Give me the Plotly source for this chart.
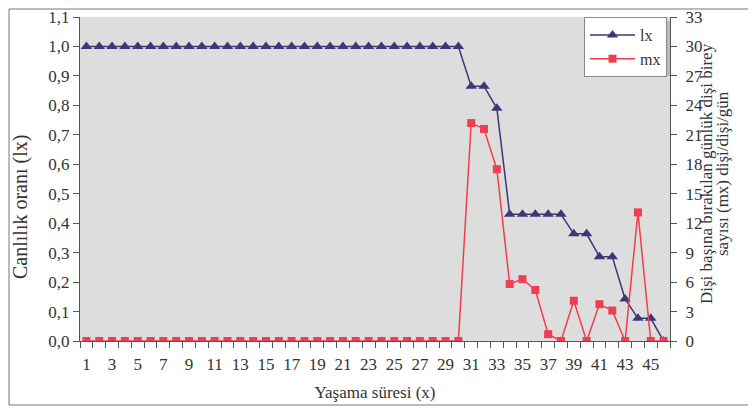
import plotly.graph_objects as go

x = list(range(1, 47))
lx = [1.0] * 30 + [0.865, 0.865, 0.79, 0.43, 0.43, 0.43, 0.43, 0.43, 0.364, 0.364,
                   0.286, 0.286, 0.143, 0.077, 0.077, 0.0]
mx = [0.0] * 30 + [22.2, 21.6, 17.5, 5.8, 6.3, 5.2, 0.7, 0.0, 4.1, 0.0,
                   3.75, 3.1, 0.0, 13.1, 0.0, 0.0]
x_labels = list(range(1, 47, 2))
left_ticks = [round(i * 0.1, 1) for i in range(12)]
right_ticks = list(range(0, 34, 3))

FONT = "Liberation Serif"
TXT = "#333333"
OFF = 8  # page body margin
W, H = 756 - OFF, 416 - OFF
L, T = 80 - OFF, 17 - OFF
R = W - (670 - OFF)
B = H - (341 - OFF)
pw, ph = W - L - R, H - T - B

fig = go.Figure()
fig.add_trace(go.Scatter(x=x, y=lx, name="lx", mode="lines+markers",
                         line=dict(color="#3b3878", width=1.5),
                         marker=dict(symbol="triangle-up", size=10, color="#3b3878")))
fig.add_trace(go.Scatter(x=x, y=mx, name="mx", mode="lines+markers", yaxis="y2",
                         line=dict(color="#ee3f52", width=1.5),
                         marker=dict(symbol="square", size=8, color="#ee3f52")))

def px_x(p):
    return (p - OFF - L) / pw

def px_y(p):
    return (H - B - (p - OFF)) / ph

fig.update_layout(
    width=W, height=H,
    margin=dict(l=L, r=R, t=T, b=B, autoexpand=False),
    paper_bgcolor="white",
    plot_bgcolor="#dddddd",
    separators=",.",
    font=dict(family=FONT, size=17, color=TXT),
    showlegend=True,
    legend=dict(x=px_x(584), y=px_y(17), xanchor="left", yanchor="top",
                bgcolor="white", bordercolor="#888888", borderwidth=1,
                font=dict(family=FONT, size=16, color=TXT),
                itemwidth=45, tracegroupgap=0),
    xaxis=dict(range=[0.5, 46.5], tickmode="array", tickvals=x_labels,
               ticktext=[str(v) for v in x_labels], ticks="", automargin=False,
               ticklabelstandoff=8, ticklabeloverflow="allow",
               showgrid=False, zeroline=False, showline=True, linecolor="#555555",
               minor=dict(tick0=0.5, dtick=1, ticks="outside", ticklen=6,
                          tickcolor="#555555", showgrid=False),
               title=dict(text="Yaşama süresi (x)", font=dict(family=FONT, size=17), standoff=12),
               tickfont=dict(family=FONT, size=17)),
    yaxis=dict(range=[0, 1.1], tickmode="array", tickvals=left_ticks, tickformat=".1f",
               ticks="outside", ticklen=6, tickcolor="#555555", automargin=False,
               ticklabeloverflow="allow",
               showgrid=False, zeroline=False, showline=True, linecolor="#555555",
               tickfont=dict(family=FONT, size=17)),
    yaxis2=dict(range=[0, 33], overlaying="y", side="right", tickmode="array", automargin=False,
                tickvals=right_ticks, ticks="outside", ticklen=6, tickcolor="#555555",
                ticklabelstandoff=5, ticklabeloverflow="allow",
                showgrid=False, zeroline=False, showline=True, linecolor="#555555",
                tickfont=dict(family=FONT, size=17)),
    annotations=[
        dict(text="Canlılık oranı (lx)", xref="paper", yref="paper",
             x=px_x(21), y=px_y(207), textangle=-90, showarrow=False,
             xanchor="center", yanchor="middle", font=dict(family=FONT, size=20, color=TXT)),
        dict(text="Dişi başına bırakılan günlük dişi birey", xref="paper", yref="paper",
             x=px_x(706), y=px_y(174), textangle=-90, showarrow=False,
             xanchor="center", yanchor="middle", font=dict(family=FONT, size=17, color=TXT)),
        dict(text="sayısı (mx) dişi/dişi/gün", xref="paper", yref="paper",
             x=px_x(722), y=px_y(174), textangle=-90, showarrow=False,
             xanchor="center", yanchor="middle", font=dict(family=FONT, size=17, color=TXT)),
    ],
    shapes=[
        dict(type="rect", xref="paper", yref="paper",
             x0=px_x(588), x1=px_x(670), y0=px_y(76), y1=px_y(21),
             fillcolor="#bbbbbb", line=dict(width=0), layer="above"),
        dict(type="rect", xref="paper", yref="paper",
             x0=px_x(OFF + 1), x1=px_x(752), y0=px_y(405), y1=px_y(OFF + 1),
             fillcolor="rgba(0,0,0,0)", line=dict(color="#777777", width=1)),
    ],
)

fig.write_html("out.html")
